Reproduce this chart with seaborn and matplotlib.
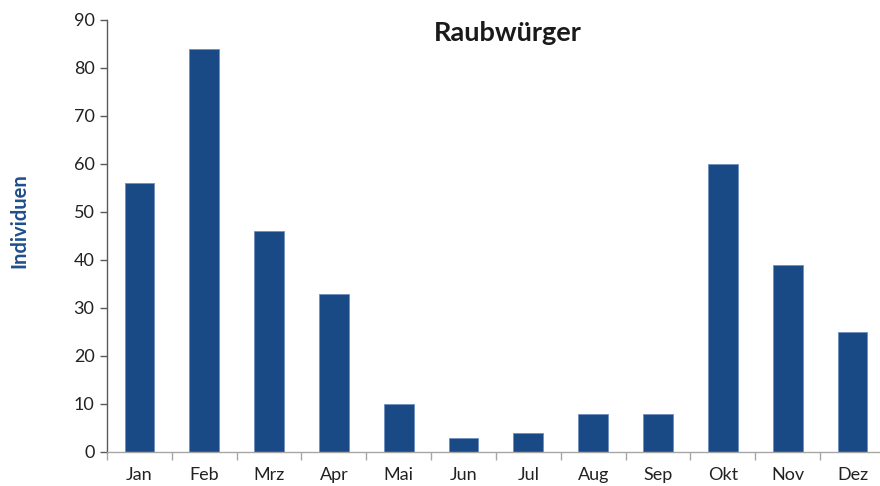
import numpy as np
import pandas as pd
import seaborn as sns
from matplotlib import pyplot as plt

# Monatsdaten Raubwürger
months = ['Jan', 'Feb', 'Mrz', 'Apr', 'Mai', 'Jun', 'Jul', 'Aug', 'Sep', 'Okt', 'Nov', 'Dez']
counts = [56, 84, 46, 33, 10, 3, 4, 8, 8, 60, 39, 25]

df = pd.DataFrame({'Monat': months, 'Individuen': counts})

sns.set_style('white')
plt.rcParams['font.family'] = ['Lato', 'DejaVu Sans']

fig = plt.figure(figsize=(8.8, 4.86), dpi=100)
ax = fig.add_axes([0.1216, 0.07, 0.884, 0.889])

sns.barplot(data=df, x='Monat', y='Individuen', color='#1a4a86', width=0.46,
            edgecolor='#6f8fbf', linewidth=0.6, saturation=1, ax=ax)

ax.set_xlim(-0.5, 11.5)
ax.set_ylim(0, 90)
ax.set_yticks(range(0, 91, 10))
ax.tick_params(axis='y', labelsize=13, colors='#595959', length=5, width=1,
               direction='out', left=True, labelcolor='#222222', pad=4)
ax.tick_params(axis='x', which='major', length=0, labelsize=13,
               labelcolor='#222222', pad=11)
ax.set_xticks(np.arange(-0.5, 12, 1), minor=True)
ax.tick_params(axis='x', which='minor', length=6, width=1, color='#a6a6a6',
               direction='out', bottom=True)

for s in ['top', 'right']:
    ax.spines[s].set_visible(False)
ax.spines['left'].set_color('#595959')
ax.spines['bottom'].set_color('#a6a6a6')
ax.spines['left'].set_linewidth(1)
ax.spines['bottom'].set_linewidth(1)

ax.set_xlabel('')
ax.set_ylabel('Individuen', fontsize=14.5, fontweight='bold', color='#1f4e8c')
ax.yaxis.set_label_coords(-0.1, 0.535)

ax.text(0.515, 0.97, 'Raubwürger', transform=ax.transAxes, ha='center', va='center',
        fontsize=19.5, fontweight='bold', color='#1a1a1a')

fig.savefig('out.png', dpi=100)
